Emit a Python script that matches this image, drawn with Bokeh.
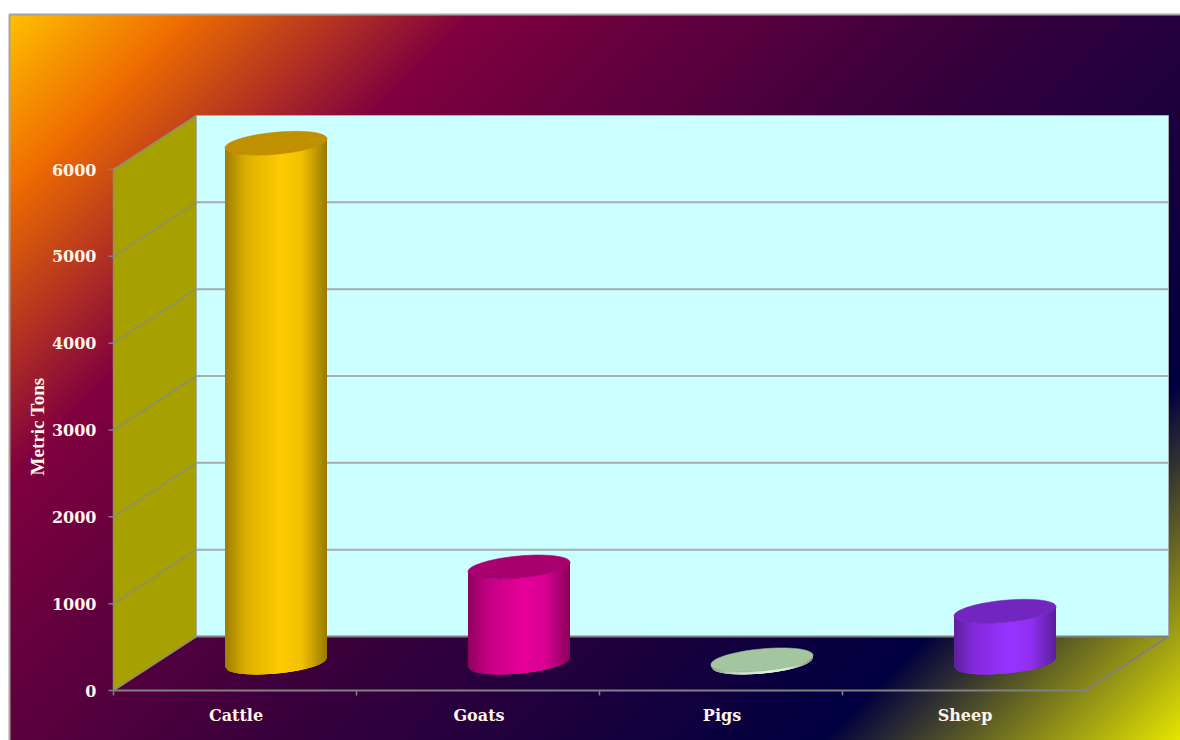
import numpy as np
from bokeh.core.properties import value
from bokeh.embed import file_html
from bokeh.models import Range1d
from bokeh.plotting import figure
from bokeh.resources import INLINE

# Chart data
categories = ["Cattle", "Goats", "Pigs", "Sheep"]
tonnes = [5980, 1100, 30, 590]
y_ticks = [0, 1000, 2000, 3000, 4000, 5000, 6000]
y_title = "Metric Tons"

body_centres = ["#FFCC00", "#E6009A", "#E2F6DC", "#9933FF"]
top_colours = ["#C09000", "#A8006E", "#A3C6A0", "#7326BF"]

# Panel gradient stops, measured along the diagonal of the page
stop_pos = [0.0, 0.09, 0.245, 0.50, 0.81, 1.0]
stop_rgb = [
    (255, 192, 0),
    (240, 112, 0),
    (128, 0, 64),
    (60, 0, 60),
    (0, 0, 64),
    (232, 232, 0),
]

W, H = 1180, 740
# Data units per screen pixel; the origin of the front axis sits at (113, 690)
PX_X = 1 / 243.0
PX_Y = 6000 / 521
ORIGIN_PX = (113, 690)
DEPTH_X = 83 * PX_X
DEPTH_Y = 54 * PX_Y

x_lo, x_hi = -ORIGIN_PX[0] * PX_X, (W - ORIGIN_PX[0]) * PX_X
y_lo, y_hi = (ORIGIN_PX[1] - H) * PX_Y, ORIGIN_PX[1] * PX_Y

p = figure(
    width=W,
    height=H,
    x_range=Range1d(x_lo, x_hi),
    y_range=Range1d(y_lo, y_hi),
    output_backend="svg",
    toolbar_location=None,
    min_border=0,
    outline_line_color=None,
    background_fill_color="white",
    border_fill_color="white",
)
p.xaxis.visible = False
p.yaxis.visible = False
p.grid.visible = False

# Panel background: a diagonal multi-stop gradient
left_px, top_px = 9, 14
cols = np.arange(left_px, W)
rows = np.arange(H - 1, top_px - 1, -1)
xx, yy = np.meshgrid(cols, rows)
t = (xx + yy - left_px - top_px) / (W + H - left_px - top_px)
rgba = np.empty(xx.shape + (4,), dtype=np.uint8)
for ch in range(3):
    rgba[..., ch] = np.interp(t, stop_pos, [c[ch] for c in stop_rgb])
rgba[..., 3] = 255
p.image_rgba(
    image=[rgba.view(np.uint32).reshape(xx.shape)],
    x=x_lo + left_px * PX_X,
    y=y_lo,
    dw=(W - left_px) * PX_X,
    dh=(H - top_px) * PX_Y,
)

# Panel border
border = "#A8A49C"
panel_l = x_lo + left_px * PX_X
panel_t = y_hi - top_px * PX_Y
p.line([panel_l, panel_l, x_hi], [y_lo, panel_t, panel_t], line_color=border, line_width=2)

n = len(categories)
top = y_ticks[-1]
grid_grey = "#A6AEAE"

# Side wall and back wall of the 3D box
p.patch(
    [0, DEPTH_X, DEPTH_X, 0],
    [0, DEPTH_Y, top + DEPTH_Y, top],
    fill_color="#A6A000",
    line_color="#8E8E70",
    line_width=1.5,
)
p.patch(
    [DEPTH_X, n + DEPTH_X, n + DEPTH_X, DEPTH_X],
    [DEPTH_Y, DEPTH_Y, top + DEPTH_Y, top + DEPTH_Y],
    fill_color="#CCFFFF",
    line_color="#A6AEAE",
    line_width=1,
)

# Gridlines across both walls
inner = y_ticks[1:-1]
p.segment(
    x0=[DEPTH_X] * len(inner),
    y0=[v + DEPTH_Y for v in inner],
    x1=[n + DEPTH_X] * len(inner),
    y1=[v + DEPTH_Y for v in inner],
    line_color=grid_grey,
    line_width=2,
)
p.segment(
    x0=[0] * len(inner),
    y0=inner,
    x1=[DEPTH_X] * len(inner),
    y1=[v + DEPTH_Y for v in inner],
    line_color="#8E8E70",
    line_width=1.5,
)

# Floor edges
edge = "#808080"
p.line([DEPTH_X, n + DEPTH_X], [DEPTH_Y, DEPTH_Y], line_color=edge, line_width=2)
p.line([0, n, n + DEPTH_X], [0, 0, DEPTH_Y], line_color=edge, line_width=2)

# Tick marks
tick_x = 5 * PX_X
tick_y = 5 * PX_Y
p.segment(
    x0=[-tick_x] * len(y_ticks), y0=y_ticks, x1=[0] * len(y_ticks), y1=y_ticks,
    line_color=edge, line_width=1.5,
)
boundaries = list(range(n + 1))
p.segment(
    x0=boundaries, y0=[0] * (n + 1), x1=boundaries, y1=[-tick_y] * (n + 1),
    line_color=edge, line_width=1.5,
)

# Cylinders: overlapping vertical strips shaded across the width, with a tilted ellipse on top
RADIUS = 51 * PX_X
MINOR = 11 * PX_Y
TILT = 0.09 * PX_Y / PX_X
shade_u = [-1.0, -0.6, 0.1, 0.5, 1.0]
shade_k = [0.62, 0.86, 1.0, 0.95, 0.60]
STRIPS = 70


def shaded(hex_colour, k):
    r, g, b = (int(hex_colour[i:i + 2], 16) for i in (1, 3, 5))
    return "#%02x%02x%02x" % (int(r * k), int(g * k), int(b * k))


def lower_rim(u):
    return -MINOR * np.sqrt(np.clip(1 - u * u, 0, 1)) + TILT * RADIUS * u


edges_u = np.linspace(-1, 1, STRIPS + 1)
for i, (val, centre, top_col) in enumerate(zip(tonnes, body_centres, top_colours)):
    cx = i + 0.5 + DEPTH_X / 2 - 0.5 * PX_X
    base = DEPTH_Y / 2 + PX_Y
    xs, ys, fills = [], [], []
    for j, (u0, u1) in enumerate(zip(edges_u[:-1], edges_u[1:])):
        um = (u0 + u1) / 2
        # each strip reaches under its right-hand neighbour so no seam shows
        u2 = edges_u[min(j + 3, STRIPS)]
        xs.append([cx + RADIUS * u0, cx + RADIUS * u2, cx + RADIUS * u2, cx + RADIUS * u0])
        ys.append([
            base + lower_rim(u0),
            base + lower_rim(u2),
            base + val + lower_rim(u2),
            base + val + lower_rim(u0),
        ])
        fills.append(shaded(centre, np.interp(um, shade_u, shade_k)))
    p.patches(xs, ys, fill_color=fills, line_color=None)
    ang = np.linspace(0, 2 * np.pi, 121)
    p.patch(
        cx + RADIUS * np.cos(ang),
        base + val + MINOR * np.sin(ang) + TILT * RADIUS * np.cos(ang),
        fill_color=top_col,
        line_color=top_col,
        line_width=0.6,
    )

# Text labels
label_font = value("DejaVu Serif")
p.text(
    x=[0] * len(y_ticks),
    y=y_ticks,
    text=[str(v) for v in y_ticks],
    x_offset=-17,
    text_align="right",
    text_baseline="middle",
    text_color="#FFF4EA",
    text_font=label_font,
    text_font_style="bold",
    text_font_size="16px",
)
p.text(
    x=[i + 0.5 for i in range(n)],
    y=[0] * n,
    text=categories,
    x_offset=1,
    y_offset=25,
    text_align="center",
    text_baseline="middle",
    text_color="#FFF4EA",
    text_font=label_font,
    text_font_style="bold",
    text_font_size="16px",
)
p.text(
    x=[x_lo + 37 * PX_X],
    y=[(ORIGIN_PX[1] - 426) * PX_Y],
    text=[y_title],
    angle=np.pi / 2,
    text_align="center",
    text_baseline="middle",
    text_color="#FFF4EA",
    text_font=value("Liberation Serif"),
    text_font_style="bold",
    text_font_size="19px",
)

open("out.html", "w").write(file_html(p, INLINE))
